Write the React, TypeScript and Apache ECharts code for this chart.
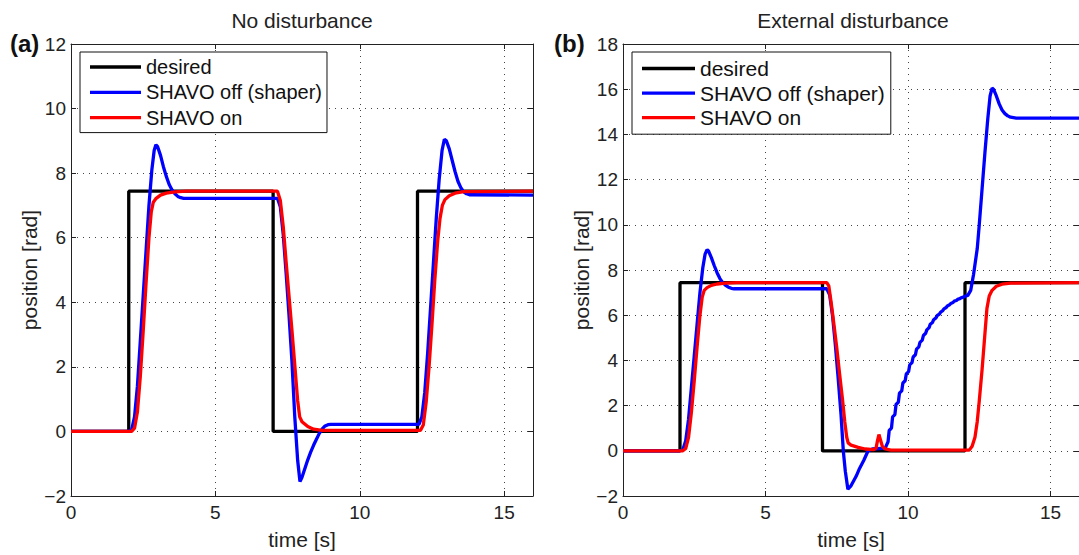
import React, { useEffect, useRef } from "react";
import * as echarts from "echarts";

const FONT = "'Liberation Sans', Arial, Helvetica, sans-serif";

const seriesNames = ["desired", "SHAVO off (shaper)", "SHAVO on"];
const seriesColors = ["#000000", "#0000ff", "#ff0000"];
const panelTitles = ["No disturbance", "External disturbance"];
const panelTags = ["(a)", "(b)"];
const yRangeA = [-2, 12];
const yRangeB = [-2, 18];

// (a) No disturbance
const desiredA: [number, number][] = [
  [0, 0], [2, 0], [2, 7.44], [7, 7.44], [7, 0], [12, 0], [12, 7.44], [16, 7.44],
];
const offA: [number, number][] = [
  [0, 0], [2.0, 0], [2.1, 0.05], [2.2, 0.45], [2.3, 1.4], [2.4, 2.8], [2.5, 4.2], [2.6, 5.6],
  [2.7, 7.0], [2.8, 8.1], [2.88, 8.7], [2.94, 8.88], [3.0, 8.82], [3.1, 8.55], [3.2, 8.2],
  [3.3, 7.9], [3.4, 7.65], [3.5, 7.48], [3.6, 7.36], [3.7, 7.28], [3.8, 7.24], [3.9, 7.22],
  [7.15, 7.22], [7.25, 6.95], [7.35, 6.1], [7.45, 4.9], [7.55, 3.6], [7.65, 2.2], [7.75, 0.45],
  [7.85, -0.9], [7.93, -1.55], [8.0, -1.42], [8.1, -1.15], [8.2, -0.88], [8.3, -0.64],
  [8.4, -0.43], [8.5, -0.24], [8.6, -0.06], [8.7, 0.08], [8.8, 0.17], [8.9, 0.21], [9.0, 0.22],
  [12.05, 0.22], [12.15, 0.45], [12.25, 1.2], [12.35, 2.4], [12.45, 3.8], [12.55, 5.2],
  [12.65, 6.6], [12.75, 7.8], [12.85, 8.7], [12.93, 9.05], [13.0, 9.0], [13.1, 8.75],
  [13.2, 8.4], [13.3, 8.05], [13.4, 7.75], [13.5, 7.55], [13.6, 7.42], [13.7, 7.36],
  [13.8, 7.33], [16, 7.32],
];
const onA: [number, number][] = [
  [0, 0], [2.1, 0], [2.2, 0.1], [2.3, 0.6], [2.4, 1.7], [2.5, 3.1], [2.6, 4.6], [2.7, 6.0],
  [2.78, 6.8], [2.85, 7.1], [2.95, 7.22], [3.1, 7.32], [3.3, 7.38], [3.6, 7.42], [4.0, 7.44],
  [7.15, 7.44], [7.25, 7.15], [7.35, 6.35], [7.45, 5.25], [7.55, 4.2], [7.65, 3.15],
  [7.75, 2.05], [7.85, 0.95], [7.92, 0.45], [8.0, 0.3], [8.2, 0.15], [8.4, 0.07], [8.7, 0.03],
  [12.1, 0.03], [12.2, 0.2], [12.3, 0.9], [12.4, 2.0], [12.5, 3.3], [12.6, 4.7], [12.7, 5.9],
  [12.78, 6.6], [12.86, 7.0], [12.95, 7.18], [13.1, 7.3], [13.3, 7.38], [13.6, 7.43], [16, 7.44],
];

// (b) External disturbance
const desiredB: [number, number][] = [
  [0, 0], [2, 0], [2, 7.44], [7, 7.44], [7, 0], [12, 0], [12, 7.44], [16, 7.44],
];
const offB: [number, number][] = [
  [0, 0], [2.0, 0], [2.1, 0.05], [2.2, 0.45], [2.3, 1.4], [2.4, 2.8], [2.5, 4.2], [2.6, 5.6],
  [2.7, 7.0], [2.8, 8.1], [2.88, 8.7], [2.95, 8.9], [3.0, 8.84], [3.1, 8.55], [3.2, 8.2],
  [3.3, 7.88], [3.4, 7.62], [3.5, 7.44], [3.6, 7.32], [3.7, 7.24], [3.8, 7.19], [3.9, 7.17],
  [7.15, 7.17], [7.25, 6.9], [7.35, 6.0], [7.45, 4.7], [7.55, 3.2], [7.65, 1.6], [7.73, 0.0],
  [7.8, -0.9], [7.89, -1.7], [8.0, -1.55], [8.18, -1.13], [8.3, -0.78], [8.45, -0.42],
  [8.6, 0.0], [8.75, 0.08], [9.2, 0.12], [9.3, 0.4], [9.34, 0.9], [9.42, 1.0], [9.46, 1.5],
  [9.54, 1.6], [9.58, 2.05], [9.66, 2.15], [9.7, 2.55], [9.78, 2.65], [9.82, 3.0], [9.9, 3.1],
  [9.94, 3.4], [10.02, 3.5], [10.06, 3.8], [10.14, 3.9], [10.18, 4.15], [10.26, 4.25],
  [10.3, 4.5], [10.38, 4.6], [10.42, 4.8], [10.5, 4.9], [10.54, 5.1], [10.62, 5.2],
  [10.66, 5.35], [10.74, 5.45], [10.78, 5.6], [10.86, 5.68], [10.9, 5.8], [10.98, 5.88],
  [11.02, 5.98], [11.1, 6.05], [11.14, 6.13], [11.22, 6.2], [11.26, 6.28], [11.34, 6.34],
  [11.38, 6.41], [11.46, 6.46], [11.5, 6.52], [11.58, 6.56], [11.62, 6.62], [11.7, 6.65],
  [11.74, 6.7], [11.82, 6.73], [11.86, 6.77], [11.94, 6.8], [12.0, 6.84], [12.1, 6.88],
  [12.2, 7.1], [12.3, 7.8], [12.43, 8.95], [12.5, 10.0], [12.6, 11.6], [12.7, 13.2],
  [12.8, 14.7], [12.88, 15.7], [12.95, 16.05], [13.0, 16.0], [13.1, 15.7], [13.2, 15.35],
  [13.3, 15.08], [13.4, 14.92], [13.5, 14.82], [13.6, 14.76], [13.8, 14.72], [16, 14.72],
];
const onB: [number, number][] = [
  [0, 0], [2.1, 0], [2.2, 0.1], [2.3, 0.6], [2.4, 1.7], [2.5, 3.1], [2.6, 4.6], [2.7, 6.0],
  [2.78, 6.8], [2.85, 7.1], [2.95, 7.22], [3.1, 7.32], [3.3, 7.38], [3.6, 7.42], [4.0, 7.44],
  [7.15, 7.44], [7.22, 7.3], [7.3, 6.6], [7.4, 5.6], [7.5, 4.56], [7.6, 3.4], [7.7, 2.3],
  [7.78, 1.3], [7.85, 0.6], [7.9, 0.35], [8.0, 0.25], [8.25, 0.15], [8.5, 0.08], [8.8, 0.05],
  [8.88, 0.12], [8.93, 0.45], [8.98, 0.72], [9.03, 0.5], [9.1, 0.2], [9.2, 0.08], [9.4, 0.03],
  [12.15, 0.03], [12.25, 0.2], [12.35, 0.6], [12.43, 1.3], [12.5, 2.2], [12.6, 3.6],
  [12.7, 5.2], [12.77, 6.3], [12.85, 6.85], [12.95, 7.1], [13.1, 7.28], [13.3, 7.37],
  [13.6, 7.42], [16, 7.44],
];

const panelData = [
  [desiredA, offA, onA],
  [desiredB, offB, onB],
];

const grids = [
  { left: 71, top: 44, width: 462, height: 456 },
  { left: 623, top: 44, width: 460, height: 456 },
];

const fmt = (v: number) => (v < 0 ? "\u2212" + Math.abs(v) : String(v));

export default function App() {
  const ref = useRef<HTMLDivElement>(null);
  useEffect(() => {
    if (!ref.current) return;
    const chart = echarts.init(ref.current, null, { renderer: "svg" });
    const axisLine = { show: true, onZero: false, lineStyle: { color: "#222", width: 1 } };
    const axisTick = { show: true, inside: true, length: 5, lineStyle: { color: "#222" } };
    const splitLine = { show: true, lineStyle: { color: "#444", width: 1, type: [1, 5] } };
    const labelStyle = { color: "#222", fontSize: 19, fontFamily: FONT };
    const nameStyle = { color: "#222", fontSize: 21, fontFamily: FONT };
    const xAxis: any[] = [];
    const yAxis: any[] = [];
    const yRanges = [yRangeA, yRangeB];
    [0, 1].forEach((g) => {
      xAxis.push({
        type: "value", gridIndex: g, min: 0, max: 16, interval: 5, position: "bottom",
        axisLine, axisTick, splitLine,
        axisLabel: { ...labelStyle, margin: 7, formatter: fmt, showMaxLabel: false },
        name: "time [s]", nameLocation: "middle", nameGap: 33, nameTextStyle: nameStyle,
      });
      xAxis.push({
        type: "value", gridIndex: g, min: 0, max: 16, interval: 5, position: "top",
        axisLine, axisTick, splitLine: { show: false }, axisLabel: { show: false },
      });
      yAxis.push({
        type: "value", gridIndex: g, min: yRanges[g][0], max: yRanges[g][1], interval: 2,
        position: "left", axisLine, axisTick, splitLine,
        axisLabel: { ...labelStyle, margin: 5, formatter: fmt },
        name: "position [rad]", nameLocation: "middle", nameGap: 24, nameRotate: 90,
        nameTextStyle: nameStyle,
      });
      yAxis.push({
        type: "value", gridIndex: g, min: yRanges[g][0], max: yRanges[g][1], interval: 2,
        position: "right", axisLine, axisTick, splitLine: { show: false },
        axisLabel: { show: false },
      });
    });

    const series: any[] = [];
    panelData.forEach((arrs, g) => {
      arrs.forEach((d, i) => {
        series.push({
          type: "line",
          name: seriesNames[i],
          xAxisIndex: g * 2,
          yAxisIndex: g * 2,
          data: d,
          color: seriesColors[i],
          showSymbol: false,
          symbol: "none",
          lineStyle: { color: seriesColors[i], width: 3.3 },
          z: 2 + i,
        });
      });
    });

    const legendBase = {
      orient: "vertical",
      icon: "rect",
      itemHeight: 3.3,
      borderColor: "#111",
      borderWidth: 1,
      backgroundColor: "#fff",
      selectedMode: false,
      data: seriesNames,
    };

    chart.setOption({
      animation: false,
      backgroundColor: "#fff",
      title: panelTitles.map((t, g) => ({
        text: t,
        left: grids[g].left + grids[g].width / 2,
        textAlign: "center",
        top: 10,
        padding: 0,
        textStyle: { color: "#222", fontSize: 21, fontWeight: "normal", fontFamily: FONT },
      })),
      grid: grids,
      xAxis,
      yAxis,
      legend: [
        {
          ...legendBase,
          left: 80, top: 52,
          padding: [5, 5, 5, 10],
          itemWidth: 51,
          itemGap: 5.3,
          textStyle: { color: "#111", fontSize: 20, lineHeight: 20, fontFamily: FONT },
        },
        {
          ...legendBase,
          left: 632, top: 52,
          padding: [6, 6, 6, 10],
          itemWidth: 53,
          itemGap: 3.6,
          textStyle: { color: "#111", fontSize: 21, lineHeight: 21, fontFamily: FONT },
        },
      ],
      graphic: panelTags.map((t, g) => ({
        type: "text",
        left: g === 0 ? 10 : 554,
        top: 31,
        style: { text: t, fill: "#111", font: `bold 24px ${FONT}` },
      })),
      series,
    });
    return () => chart.dispose();
  }, []);
  return (
    <div
      ref={ref}
      style={{ position: "absolute", left: 0, top: 0, width: 1079, height: 555, background: "#fff" }}
    />
  );
}
